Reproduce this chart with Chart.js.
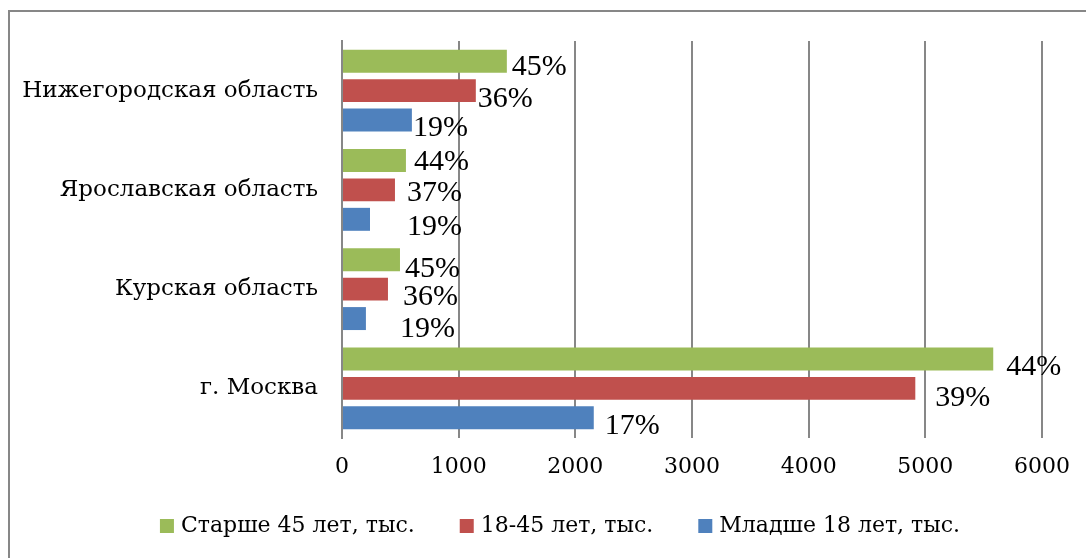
<!DOCTYPE html>
<html>
<head>
<meta charset="utf-8">
<script src="https://cdn.jsdelivr.net/npm/chart.js@4.4.1/dist/chart.umd.min.js"></script>
<style>
  html, body { margin: 0; padding: 0; background: #fff; }
  #wrap { width: 1086px; height: 558px; position: relative; }
</style>
</head>
<body>
<div id="wrap"><canvas id="chart"></canvas></div>
<script>
// ---- data ----
const regions = ['Нижегородская область', 'Ярославская область', 'Курская область', 'г. Москва'];
const seriesNames = ['Старше 45 лет, тыс.', '18-45 лет, тыс.', 'Младше 18 лет, тыс.'];
const older45 = [1413, 548, 497, 5582];
const age18to45 = [1147, 454, 394, 4914];
const under18 = [599, 240, 205, 2158];
const older45Pct = ['45%', '44%', '45%', '44%'];
const age18to45Pct = ['36%', '37%', '36%', '39%'];
const under18Pct = ['19%', '19%', '19%', '17%'];
const xMin = 0, xMax = 6000, xStep = 1000;

// ---- styling ----
const COLORS = ['#9BBB59', '#C0504D', '#4F81BD'];
const GRID = '#878787';
const SERIF = '"DejaVu Serif", serif';
const PCT_FONT = '30px "Liberation Serif", serif';
// label nudges relative to the bar end (the original labels sit a bit off)
const labelNudge = [
    [[5, 6], [8, 2], [5, 9], [13, 8]],
    [[2, 8], [12, 3], [15, 8], [20, 10]],
    [[1, 8], [37, 8], [34, 11], [11, 8]]
];

const pctLabels = [older45Pct, age18to45Pct, under18Pct];

const valueLabels = {
    id: 'valueLabels',
    afterDatasetsDraw(chart) {
        const ctx = chart.ctx;
        ctx.save();
        ctx.font = PCT_FONT;
        ctx.fillStyle = '#000';
        ctx.textAlign = 'left';
        ctx.textBaseline = 'middle';
        chart.data.datasets.forEach((ds, di) => {
            chart.getDatasetMeta(di).data.forEach((bar, i) => {
                const [dx, dy] = labelNudge[di][i];
                ctx.fillText(pctLabels[di][i], bar.x + dx, bar.y + dy);
            });
        });
        ctx.restore();
    }
};

// frame lines (top and left) and a hand-laid legend under the axis
const frameAndLegend = {
    id: 'frameAndLegend',
    afterDraw(chart) {
        const ctx = chart.ctx;
        ctx.save();
        ctx.strokeStyle = GRID;
        ctx.lineWidth = 2;
        ctx.beginPath();
        ctx.moveTo(9, 558);
        ctx.lineTo(9, 11);
        ctx.lineTo(1086, 11);
        ctx.stroke();

        ctx.font = '22px ' + SERIF;
        ctx.textBaseline = 'middle';
        ctx.textAlign = 'left';
        const box = 14, gapText = 7, gapItem = 45;
        const widths = seriesNames.map(n => ctx.measureText(n).width);
        const total = widths.reduce((a, w) => a + box + gapText + w, 0) + gapItem * (seriesNames.length - 1);
        let x = 560 - total / 2;
        const y = 526;
        seriesNames.forEach((name, i) => {
            ctx.fillStyle = COLORS[i];
            ctx.fillRect(x, y - box / 2, box, box);
            ctx.fillStyle = '#000';
            ctx.fillText(name, x + box + gapText, y);
            x += box + gapText + widths[i] + gapItem;
        });
        ctx.restore();
    }
};

const ctx = document.getElementById('chart').getContext('2d');
new Chart(ctx, {
    type: 'bar',
    data: {
        labels: regions,
        datasets: [older45, age18to45, under18].map((vals, i) => ({
            label: seriesNames[i],
            data: vals,
            backgroundColor: COLORS[i],
            borderWidth: 0,
            barPercentage: 0.78,
            categoryPercentage: 0.89
        }))
    },
    options: {
        indexAxis: 'y',
        responsive: true,
        maintainAspectRatio: false,
        animation: false,
        layout: { padding: { top: 41, right: 43, left: 0, bottom: 0 } },
        plugins: {
            legend: { display: false },
            tooltip: { enabled: false }
        },
        scales: {
            x: {
                min: xMin,
                max: xMax,
                ticks: {
                    stepSize: xStep,
                    color: '#000',
                    padding: 16,
                    font: { family: SERIF, size: 22 },
                    callback: v => String(v)
                },
                grid: { color: GRID, lineWidth: 2, drawTicks: false },
                border: { display: false },
                afterFit(scale) { scale.height = 120; }
            },
            y: {
                ticks: {
                    color: '#000',
                    padding: 24,
                    font: { family: SERIF, size: 23 }
                },
                grid: { display: false, drawTicks: false },
                border: { display: true, color: GRID, width: 2 },
                afterFit(scale) { scale.width = 342; }
            }
        }
    },
    plugins: [valueLabels, frameAndLegend]
});
</script>
</body>
</html>
